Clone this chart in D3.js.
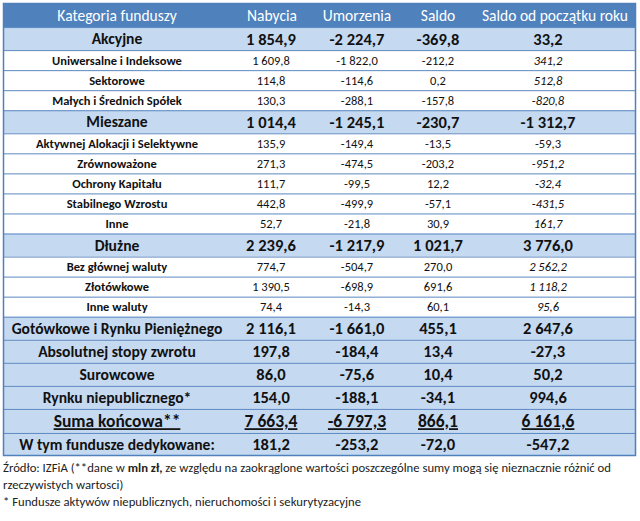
<!DOCTYPE html>
<html><head><meta charset="utf-8">
<script src="https://cdn.jsdelivr.net/npm/d3@7"></script>
<style>
body{margin:0;background:#fff;}
svg text{font-family:Carlito,Calibri,Lato,"Open Sans",sans-serif;}
</style></head>
<body><svg id="c" width="640" height="521"></svg>
<script>
// ---- data ----
const headers = ["Kategoria funduszy","Nabycia","Umorzenia","Saldo","Saldo od początku roku"];
const categories = ["Akcyjne","Uniwersalne i Indeksowe","Sektorowe","Małych i Średnich Spółek","Mieszane","Aktywnej Alokacji i Selektywne","Zrównoważone","Ochrony Kapitału","Stabilnego Wzrostu","Inne","Dłużne","Bez głównej waluty","Złotówkowe","Inne waluty","Gotówkowe i Rynku Pieniężnego","Absolutnej stopy zwrotu","Surowcowe","Rynku niepublicznego*","Suma końcowa**","W tym fundusze dedykowane:"];
const rowType = ["main","sub","sub","sub","main","sub","sub","sub","sub","sub","main","sub","sub","sub","main","main","main","main","total","main"];
const nabycia   = [1854.9,1609.8,114.8,130.3,1014.4,135.9,271.3,111.7,442.8,52.7,2239.6,774.7,1390.5,74.4,2116.1,197.8,86.0,154.0,7663.4,181.2];
const umorzenia = [-2224.7,-1822.0,-114.6,-288.1,-1245.1,-149.4,-474.5,-99.5,-499.9,-21.8,-1217.9,-504.7,-698.9,-14.3,-1661.0,-184.4,-75.6,-188.1,-6797.3,-253.2];
const saldo     = [-369.8,-212.2,0.2,-157.8,-230.7,-13.5,-203.2,12.2,-57.1,30.9,1021.7,270.0,691.6,60.1,455.1,13.4,10.4,-34.1,866.1,-72.0];
const saldoYTD  = [33.2,341.2,512.8,-820.8,-1312.7,-59.3,-951.2,-32.4,-431.5,161.7,3776.0,2562.2,1118.2,95.6,2647.6,-27.3,50.2,994.6,6161.6,-547.2];
const ytdItalic = [false,true,true,true,false,false,true,true,true,true,false,true,true,true,false,false,false,false,false,false];

// ---- layout ----
const svg = d3.select("#c");
const loc = d3.formatLocale({decimal:",",thousands:" ",grouping:[3],currency:["","zł"],minus:"-"});
const fmt = loc.format(",.1f");
const tLeft = 3, tRight = 636, tTop = 3, tBottom = 456;
const colCenter = [117, 271, 357, 438, 548];
const headCenter = [117, 272, 357, 438, 555];
const unit = {header:24, main:23, total:24, sub:20};
const types = ["header"].concat(rowType);
const cum = [0];
types.forEach(t => cum.push(cum[cum.length-1] + unit[t]));
const y = d3.scaleLinear().domain([0, cum[cum.length-1]]).range([tTop, tBottom]);

const blue = "#4f81bd", light = "#c5d9f1", line = "#5b88c0";

// header
svg.append("rect").attr("x",tLeft).attr("y",y(cum[0])).attr("width",tRight-tLeft).attr("height",y(cum[1])-y(cum[0])).attr("fill",blue);
svg.selectAll("text.h").data(headers).join("text").attr("class","h")
  .attr("x",(d,i)=>headCenter[i]).attr("y",(y(cum[0])+y(cum[1]))/2).attr("dy","0.36em")
  .attr("text-anchor","middle").attr("fill","#fff").attr("font-size",15.5).text(d=>d);

const rows = categories.map((c,i)=>({c,i,type:rowType[i],vals:[nabycia[i],umorzenia[i],saldo[i],saldoYTD[i]],y0:y(cum[i+1]),y1:y(cum[i+2])}));
const g = svg.selectAll("g.row").data(rows).join("g").attr("class","row");
g.append("rect").attr("x",tLeft).attr("y",d=>d.y0).attr("width",tRight-tLeft).attr("height",d=>d.y1-d.y0)
  .attr("fill",d=>d.type==="sub"?"#fff":light);
g.append("line").attr("x1",tLeft).attr("x2",tRight).attr("y1",d=>d.y0+0.5).attr("y2",d=>d.y0+0.5)
  .attr("stroke",line).attr("stroke-width",1);

function fs(d){ return d.type==="sub"?12.5:(d.type==="total"?17.5:16.5); }
g.append("text").attr("x",colCenter[0]).attr("y",d=>(d.y0+d.y1)/2).attr("dy","0.36em")
  .attr("text-anchor","middle").attr("font-weight","bold").attr("fill","#111")
  .attr("font-size",d=>d.type==="sub"?12.5:(d.type==="total"?17.5:15.6))
  .attr("text-decoration",d=>d.type==="total"?"underline":null)
  .text(d=>d.c);
g.each(function(d){
  const gg = d3.select(this);
  d.vals.forEach((v,j)=>{
    gg.append("text").attr("x",colCenter[j+1]).attr("y",(d.y0+d.y1)/2).attr("dy","0.36em")
      .attr("text-anchor","middle").attr("fill","#111")
      .attr("font-size",fs(d))
      .attr("font-weight",d.type==="sub"?"normal":"bold")
      .attr("font-style",(j===3 && ytdItalic[d.i])?"italic":"normal")
      .attr("text-decoration",d.type==="total"?"underline":null)
      .text(fmt(v));
  });
});
// outer border
svg.append("rect").attr("x",tLeft+0.5).attr("y",tTop+0.5).attr("width",tRight-tLeft-1).attr("height",tBottom-tTop-1)
  .attr("fill","none").attr("stroke",blue).attr("stroke-width",1.5);

// footnotes
const fn = svg.append("g").attr("font-size",12.7).attr("fill","#222");
const t1 = fn.append("text").attr("x",3).attr("y",472);
t1.append("tspan").text("Źródło: IZFiA (**dane w ");
t1.append("tspan").attr("font-weight","bold").text("mln zł,");
t1.append("tspan").text(" ze względu na zaokrąglone wartości poszczególne sumy mogą się nieznacznie różnić od");
fn.append("text").attr("x",3).attr("y",489).text("rzeczywistych wartosci)");
fn.append("text").attr("x",3).attr("y",506).text("* Fundusze aktywów niepublicznych, nieruchomości i sekurytyzacyjne");
</script></body></html>
